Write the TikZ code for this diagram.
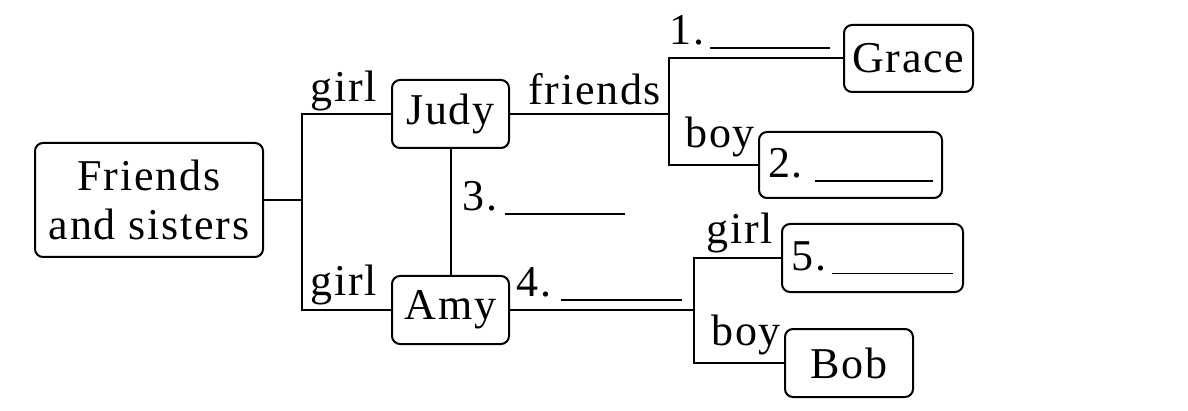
\documentclass[tikz,border=0pt]{standalone}
\usepackage{fontspec}
\setmainfont{Liberation Serif}[LetterSpace=4]
\begin{document}
\begin{tikzpicture}[x=0.5pt,y=-0.5pt,
  every node/.style={font=\fontsize{22}{24.5}\selectfont, inner sep=0pt},
  box/.style={draw, line width=1pt, rounded corners=4pt, align=center},
  lbl/.style={anchor=base west},
  conn/.style={line width=1pt}]
\path[use as bounding box, fill=white] (0,0) rectangle (1188,411);
\newcommand{\blank}[1]{\rule[-2pt]{#1}{0.9pt}}
% boxes
\node[box, minimum width=114pt, minimum height=57pt] (fs) at (149,200) {Friends\\and sisters};
\node[box, minimum width=58.5pt, minimum height=34pt] (judy) at (450.5,114) {Judy};
\node[box, minimum width=58.5pt, minimum height=34pt] (amy) at (450.5,310) {Amy};
\node[box, minimum width=64.5pt, minimum height=33.5pt] (grace) at (908.5,58.5) {Grace};
\node[box, minimum width=91.5pt, minimum height=33pt] (b2) at (850.5,165) {2.\hspace{6pt}\blank{59pt}};
\node[box, minimum width=90.5pt, minimum height=34pt] (b5) at (872.5,258) {5.\hspace{3pt}\blank{60.5pt}};
\node[box, minimum width=64pt, minimum height=34pt] (bob) at (849,363) {Bob};
% junctions
\coordinate (j1) at (302,200);
\coordinate (j2) at (669,114);
\coordinate (j3) at (694,310);
% connectors
\draw[conn] (fs.east) -- (j1);
\draw[conn] (judy.west) -| (j1) |- (amy.west);
\draw[conn] (judy.east) -- (j2);
\draw[conn] (grace.west) -| (j2) |- (b2.west);
\draw[conn] (judy.south) -- (amy.north);
\draw[conn] (amy.east) -- (j3);
\draw[conn] (b5.west) -| (j3) |- (bob.west);
% labels
\node[lbl] (l1) at (310,102) {girl};
\node[lbl] (l2) at (310,295) {girl};
\node[lbl] (l3) at (528,105) {friends};
\node[lbl] (l4) at (685,148) {boy};
\node[lbl] (l5) at (706,243) {girl};
\node[lbl] (l6) at (711,345) {boy};
\node[lbl] (q1) at (669,45) {1.\hspace{3pt}\blank{60pt}};
\node[lbl] (q3) at (462,211) {3.\hspace{4pt}\blank{60pt}};
\node[lbl] (q4) at (516,297) {4.\hspace{5pt}\blank{60.5pt}};
\end{tikzpicture}
\end{document}
